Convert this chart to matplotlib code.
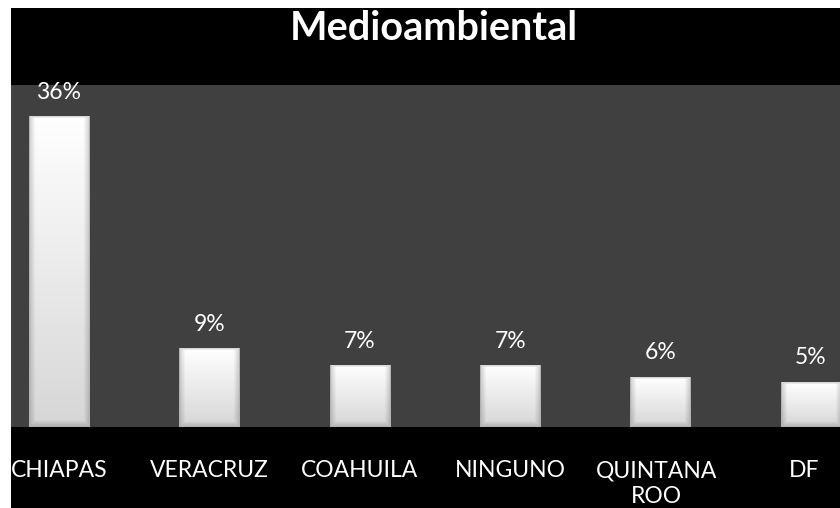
import numpy as np
import matplotlib
matplotlib.use("Agg")
import matplotlib.pyplot as plt
from matplotlib.patches import Rectangle
from matplotlib.transforms import ScaledTranslation

categories = ["CHIAPAS", "VERACRUZ", "COAHUILA", "NINGUNO", "QUINTANA\nROO", "DF"]
values = [36, 9.1, 7.1, 7.1, 5.8, 5.2]
labels = ["36%", "9%", "7%", "7%", "6%", "5%"]
title = "Medioambiental"

W, H = 840, 508
fig = plt.figure(figsize=(W / 100, H / 100), dpi=100)
fig.patch.set_facecolor("white")
fig.add_artist(Rectangle((11 / W, 0), 1, 1 - 8 / H, transform=fig.transFigure,
                         facecolor="black", edgecolor="none", zorder=0))

ax = fig.add_axes([11 / W, 1 - 427 / H, 1 - 11 / W, (427 - 85) / H])
ax.set_facecolor("#404040")
x = np.arange(len(categories))
bw = 0.4
bars = ax.bar(x, values, width=bw, color="none", edgecolor="none")

nx = 60

def bevel(h):
    ph = h * 8.58  # approx px height
    n = 200
    yy = np.linspace(0, 1, n)[:, None]
    xx = np.linspace(0, 1, nx)[None, :]
    base = 1.0 - 0.16 * yy + 0 * xx
    ex = np.minimum(xx, 1 - xx) * 60
    ey_b = (1 - yy) * ph
    ey_t = yy * ph
    s = np.ones_like(base)
    s = np.where(ex < 6, 0.82 + 0.18 * ex / 6, s)
    s = np.minimum(s, np.where(ey_b < 6, 0.82 + 0.18 * ey_b / 6, 1.0))
    out = np.clip(base * s, 0, 1)
    out = np.where(ey_t < 1.5, 0.85, out)
    out = np.where(ex < 1.0, 0.7, out)
    return np.dstack([out, out, out])

for b in bars:
    x0, w, h = b.get_x(), b.get_width(), b.get_height()
    ax.imshow(bevel(h), extent=(x0, x0 + w, 0, h), aspect="auto",
              interpolation="bilinear", zorder=2, clip_on=True)

for b, lab in zip(bars, labels):
    ax.annotate(lab, (b.get_x() + b.get_width() / 2, b.get_height()),
                xytext=(0, 10), textcoords="offset points", ha="center",
                va="bottom", color="white", fontsize=16.5, family="Lato")

ax.set_xlim(-0.319, 5.193)
ax.set_ylim(0, 39.7)
ax.set_yticks([])
ax.set_xticks(x)
ticklabs = ax.set_xticklabels(categories, color="white", fontsize=16.5, family="Lato",
                              linespacing=1.3, va="top")
ax.tick_params(axis="x", length=0, pad=24)
ticklabs[-1].set_transform(ticklabs[-1].get_transform() +
                           ScaledTranslation(-0.07, 0, fig.dpi_scale_trans))
ticklabs[-2].set_transform(ticklabs[-2].get_transform() +
                           ScaledTranslation(-0.04, 0, fig.dpi_scale_trans))
for s in ax.spines.values():
    s.set_visible(False)

fig.text(434 / W, 1 - 29 / H, title, ha="center", va="center", color="white",
         fontsize=28.5, fontweight="bold", family="Lato")

fig.savefig("out.png", dpi=100, facecolor=fig.get_facecolor())
